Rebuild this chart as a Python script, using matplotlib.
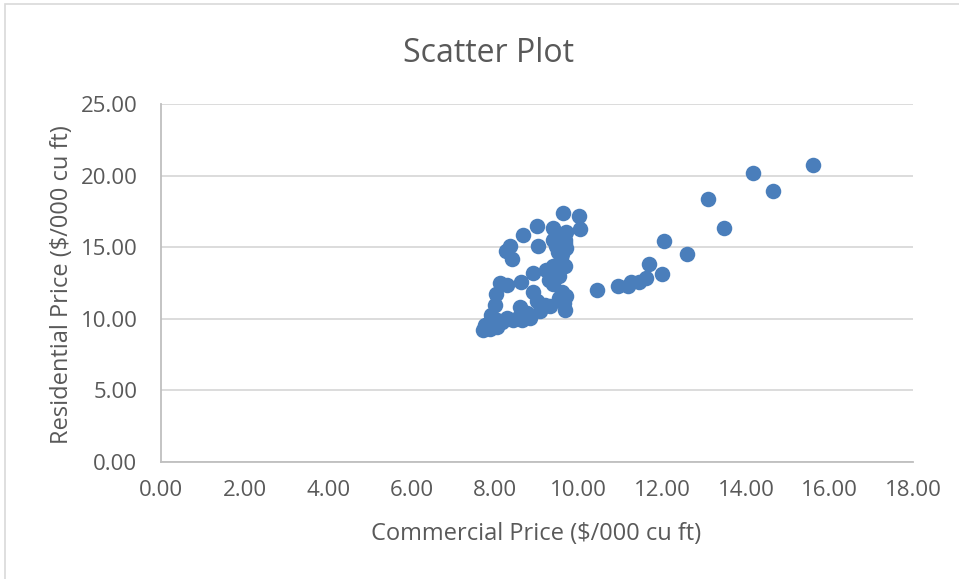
import matplotlib.pyplot as plt
from matplotlib.patches import Rectangle

# valores
commercial = [
    9.62, 10.00, 9.00, 9.38, 9.69, 10.02, 8.66, 9.67, 9.38, 8.35,
    9.02, 9.45, 9.69, 8.25, 8.40, 9.50, 9.57, 9.67, 9.38, 9.21,
    8.90, 9.52, 9.28, 8.61, 8.11, 8.28, 9.38, 9.59, 8.90, 9.69,
    8.01, 9.00, 9.52, 9.64, 7.99, 8.59, 9.31, 9.07, 9.67, 8.76,
    7.89, 8.28, 8.64, 8.04, 8.83, 8.16, 8.42, 7.75, 7.70, 7.87,
    8.04, 7.85, 9.19, 8.56, 9.55, 9.60, 9.45, 9.66,
    10.43, 10.94, 11.17, 11.26, 11.44, 11.60, 11.68, 12.00, 12.03, 12.59,
    13.09, 13.48, 14.16, 14.65, 15.61,
]
residential = [
    17.39, 17.18, 16.48, 16.34, 16.06, 16.27, 15.85, 15.50, 15.50, 15.08,
    15.08, 15.08, 14.94, 14.73, 14.18, 14.66, 14.25, 13.69, 13.69, 13.41,
    13.20, 12.99, 12.71, 12.57, 12.50, 12.36, 12.43, 11.87, 11.87, 11.59,
    11.73, 11.24, 11.45, 11.10, 10.96, 10.82, 10.89, 10.54, 10.61, 10.40,
    10.27, 10.06, 9.92, 9.92, 10.06, 9.78, 9.92, 9.57, 9.22, 9.29,
    9.43, 9.71, 10.96, 10.13, 15.80, 14.50, 16.00, 15.30,
    12.01, 12.29, 12.29, 12.59, 12.59, 12.85, 13.80, 13.13, 15.45, 14.50,
    18.39, 16.34, 20.16, 18.92, 20.77,
]
x_ticks = [0, 2, 4, 6, 8, 10, 12, 14, 16, 18]
y_ticks = [0, 5, 10, 15, 20, 25]

text_color = '#595959'
plt.rcParams['font.family'] = ['Open Sans', 'DejaVu Sans']

W, H = 959, 579
fig = plt.figure(figsize=(W / 100, H / 100), dpi=100)

# borde del area del grafico
fig.patches.append(Rectangle((5 / W, -0.1), 1.2, 1 - 4 / H + 0.1,
                             transform=fig.transFigure, fill=False,
                             edgecolor='#D9D9D9', linewidth=1.2))

ax = fig.add_axes([161 / W, 1 - 462 / H, (913 - 161) / W, (462 - 104) / H])
ax.scatter(commercial, residential, s=125, color='#4A7EBB', zorder=3,
           linewidths=0)

ax.set_xlim(0, 18)
ax.set_ylim(0, 25)
ax.set_xticks(x_ticks)
ax.set_yticks(y_ticks)
ax.set_xticklabels([f'{v:.2f}' for v in x_ticks])
ax.set_yticklabels([f'{v:.2f}' for v in y_ticks])
ax.tick_params(length=0, labelsize=16, colors=text_color)
ax.tick_params(axis='x', pad=13)
ax.tick_params(axis='y', pad=17)

ax.grid(axis='y', color='#D9D9D9', linewidth=1.3, zorder=0)
ax.set_axisbelow(True)
for side in ['top', 'right']:
    ax.spines[side].set_visible(False)
for side in ['bottom', 'left']:
    ax.spines[side].set_color('#BFBFBF')
    ax.spines[side].set_linewidth(1.3)

fig.text(488 / W, 1 - 62 / H, 'Scatter Plot', ha='center', va='baseline',
         fontsize=23, color=text_color)
fig.text(536 / W, 1 - 540 / H, 'Commercial Price ($/000 cu ft)', ha='center',
         va='baseline', fontsize=17, color=text_color)
fig.text(62 / W, 1 - 285 / H, 'Residential Price ($/000 cu ft)', ha='center',
         va='center', rotation=90, fontsize=17, color=text_color)

fig.savefig('out.png', dpi=100)
